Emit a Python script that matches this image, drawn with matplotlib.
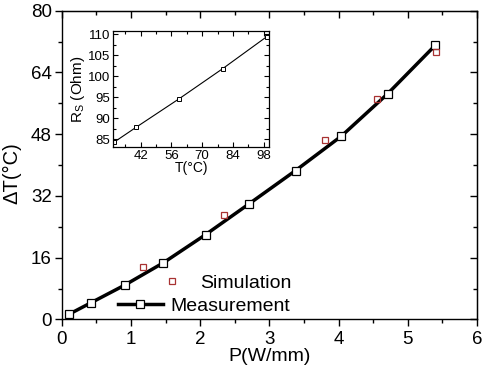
import matplotlib
matplotlib.use("Agg")
import matplotlib.pyplot as plt
from matplotlib.ticker import MultipleLocator
from matplotlib.lines import Line2D

plt.rcParams['font.family'] = ['Liberation Sans', 'DejaVu Sans']

# Main chart data
meas_P = [0.11, 0.43, 0.91, 1.47, 2.08, 2.71, 3.38, 4.04, 4.71, 5.40]
meas_dT = [1.4, 4.4, 8.9, 14.7, 22.0, 30.0, 38.6, 47.5, 58.5, 71.1]
sim_P = [1.17, 2.35, 3.81, 4.56, 5.41]
sim_dT = [13.6, 27.0, 46.6, 57.0, 69.3]

# Inset data
ins_T = [30.0, 39.9, 59.5, 79.4, 99.4]
ins_R = [84.3, 87.8, 94.6, 101.8, 109.4]

sim_color = '#a83232'

fig = plt.figure(figsize=(4.88, 3.76), dpi=100)
ax = fig.add_axes([0.1264, 0.1503, 0.8511, 0.8212])

ax.plot(meas_P, meas_dT, '-', color='black', lw=2.5, zorder=2)
ax.plot(meas_P, meas_dT, 's', ms=5.5, mfc='white', mec='black', mew=0.9, zorder=3)
ax.plot(sim_P, sim_dT, 's', ms=5, mfc='none', mec=sim_color, mew=0.9, zorder=4)

ax.set_xlim(0, 6)
ax.set_ylim(0, 80)
ax.xaxis.set_major_locator(MultipleLocator(1))
ax.xaxis.set_minor_locator(MultipleLocator(0.5))
ax.yaxis.set_major_locator(MultipleLocator(16))
ax.yaxis.set_minor_locator(MultipleLocator(8))
for s in ax.spines.values():
    s.set_linewidth(1.0)
ax.tick_params(axis='both', which='both', direction='out', labelsize=13.5, width=1.0)
ax.tick_params(which='major', length=5)
ax.tick_params(which='minor', length=3)
ax.tick_params(axis='x', pad=3)
ax.tick_params(axis='y', pad=2)

# mirrored inward ticks on top and right
axt = ax.secondary_xaxis('top')
axt.xaxis.set_major_locator(MultipleLocator(1))
axt.xaxis.set_minor_locator(MultipleLocator(0.5))
axt.tick_params(which='both', direction='in', labeltop=False, width=1.0)
axt.tick_params(which='major', length=5)
axt.tick_params(which='minor', length=3)
axr = ax.secondary_yaxis('right')
axr.yaxis.set_major_locator(MultipleLocator(16))
axr.yaxis.set_minor_locator(MultipleLocator(8))
axr.tick_params(which='both', direction='in', labelright=False, width=1.0)
axr.tick_params(which='major', length=5)
axr.tick_params(which='minor', length=3)

ax.set_xlabel('P(W/mm)', fontsize=14, labelpad=0)
ax.set_ylabel('ΔT(°C)', fontsize=14.5)
ax.yaxis.set_label_coords(-0.098, 0.475)

# Legends
h_sim = Line2D([], [], ls='none', marker='s', ms=5, mfc='none', mec=sim_color, mew=0.9)
h_meas = Line2D([], [], ls='-', color='black', lw=2.5, marker='s', ms=5.5,
                mfc='white', mec='black', mew=0.9)
leg1 = ax.legend([h_sim], ['Simulation'], loc='center left',
                 bbox_to_anchor=(0.2422, 0.118), frameon=False, fontsize=14,
                 borderpad=0, borderaxespad=0, handlelength=1.0, handletextpad=0.94)
ax.add_artist(leg1)
ax.legend([h_meas], ['Measurement'], loc='center left',
          bbox_to_anchor=(0.1356, 0.0437), frameon=False, fontsize=14,
          borderpad=0, borderaxespad=0, handlelength=2.31, handletextpad=0.36,
          numpoints=1)

# Inset
ins = fig.add_axes([0.2322, 0.608, 0.3197, 0.310])
ins.plot(ins_T, ins_R, '-', color='black', lw=0.8)
ins.plot(ins_T, ins_R, 's', ms=3.2, mfc='white', mec='black', mew=0.7)
ins.set_xlim(29.5, 100.6)
ins.set_ylim(83.0, 110.8)
ins.xaxis.set_minor_locator(MultipleLocator(7))
ins.yaxis.set_major_locator(MultipleLocator(5))
ins.yaxis.set_minor_locator(MultipleLocator(2.5))
ins.set_xticks([42, 56, 70, 84, 98])
for s in ins.spines.values():
    s.set_linewidth(0.9)
ins.tick_params(which='both', direction='in', top=True, right=True,
                labelsize=9.5, width=0.8, pad=2)
ins.tick_params(which='major', length=3.5)
ins.tick_params(which='minor', length=2)
ins.set_xlabel('T(°C)', fontsize=10, labelpad=-1)
ins.set_ylabel('R$_\\mathregular{S}$ (Ohm)', fontsize=11, labelpad=1)

fig.savefig('out.png', dpi=100)
